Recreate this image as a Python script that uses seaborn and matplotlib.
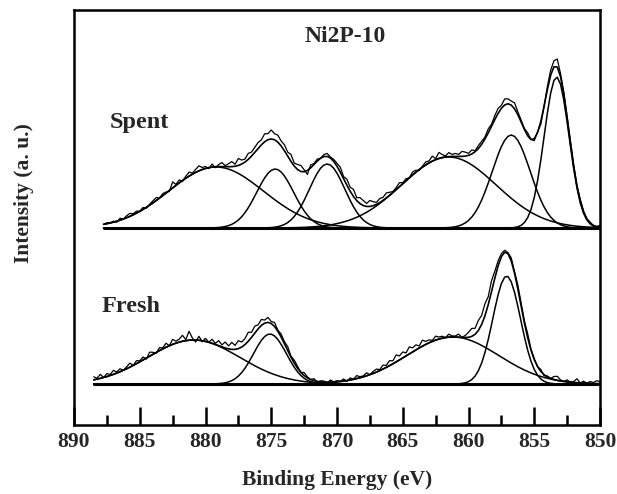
import numpy as np
import pandas as pd
import seaborn as sns
import matplotlib
matplotlib.use("Agg")
import matplotlib.pyplot as plt
from matplotlib.ticker import MultipleLocator

# ---------------- data ----------------
# fitted components: centre (eV), height, gaussian sigma (eV)
spent_center = [879.2, 874.7, 870.75, 861.5, 856.75, 853.3]
spent_height = [61, 59, 64, 71, 93, 151]
spent_sigma = [3.6, 1.4, 1.35, 3.6, 1.45, 0.95]

fresh_center = [880.9, 875.1, 861.2, 857.1]
fresh_height = [44, 50, 47, 108]
fresh_sigma = [3.5, 1.25, 3.5, 1.05]

# measured spectrum minus fitted envelope, sampled every 0.25 eV (high -> low BE)
spent_range = (887.75, 850.0)
spent_dev = [0, 1, 0,
             1, -1, 2, 0, 2, 3, 1, 2, 0, 2, -1, 1, 2, 3, 0, 2,
             1, -1, 6, 1, 3, -1, 2, 4, 1, 3, 5, 2, 2, -1, 3, -1,
             2, 4, 1, 3, 5, 2, 7, 4, 3, 6, 4, 5, 6, 5, 8, 6,
             9, 6, 7, 5, 6, 4, 7, 3, 5, 6, 2, -4, 3, 1, 2, 0,
             2, 3, 1, 2, 3, 5, 2, 6, 4, 7, 3, 6, 5, 3, 6, 4,
             2, 4, 3, 5, 3, 1, 2, 4, 1, 2, 0, 3, 2, -1, 1, 3,
             2, 5, 1, 6, 3, 1, 4, 2, 3, 2, 5, 4, 2, 4, 1, 3,
             3, 2, 4, 2, 4, 5, 3, 6, 5, 4, 6, 3, 2, 1, 3, 0,
             -2, 1, -3, 0, 3, 5, 6, 8, 3, 2, 1, 2, 1, 0, 2, 1,
             0, 1, -1, 0, 2]

fresh_range = (888.5, 850.0)
fresh_dev = [3, 1,
             4, 0, 3, 1, 4, 1, 3, 0, 2, 4, 0, 3, 1, 3, -1, 4,
             2, -1, 3, 1, 4, 0, 5, 2, 3, 6, 1, 9, 2, -2, 4, -1,
             3, 0, 4, 1, 5, 2, 6, 3, 7, 4, 8, 5, 6, 9, 5, 7,
             4, 6, 3, 5, 2, 4, 1, 3, 2, 4, 1, 3, 2, 0, 3, 1,
             0, 2, -1, 1, 1, -1, 2, 0, 1, 0, 2, -1, 2, 0, 3, 1,
             1, 3, 0, 2, 3, 1, 4, 2, 5, 3, 7, 4, 6, 3, 7, 4,
             5, 2, 6, 3, 3, 1, 4, 2, 2, 0, 3, 1, 1, 3, 0, 2,
             5, 8, 6, 10, 9, 12, 8, 11, 7, 5, 3, 2, 1, 3, 2, 4,
             3, 2, 4, 1, 1, 0, 2, -1, 1, 0, 3, 4, 1, 0, 2, 0,
             1, 4, 0, 2, 0, 2, 1, 3, 2]

spent_offset = 197
fresh_offset = 41

panel_labels = ["Spent", "Fresh"]
title = "Ni2P-10"
x_label = "Binding Energy (eV)"
y_label = "Intensity (a. u.)"

# ---------------- style ----------------
sns.set_theme(style="white")
plt.rcParams["font.family"] = ["Liberation Serif", "DejaVu Serif"]
plt.rcParams["font.weight"] = "bold"

fig = plt.figure(figsize=(6.17, 4.94), dpi=100)
ax = fig.add_axes([74 / 617, 1 - 425 / 494, 526 / 617, 415 / 494])


def gauss(x, c, h, s):
    return h * np.exp(-(x - c) ** 2 / (2 * s ** 2))


def draw_panel(rng, dev, centers, heights, sigmas, offset):
    x = np.linspace(rng[0], rng[1], len(dev))
    comps = [gauss(x, c, h, s) for c, h, s in zip(centers, heights, sigmas)]
    env = np.sum(comps, axis=0)
    raw = env + np.asarray(dev, dtype=float)
    # baseline
    sns.lineplot(x=[rng[0], rng[1]], y=[offset, offset], ax=ax, color="black",
                 lw=2.2, sort=False)
    for comp in comps:
        sns.lineplot(x=x, y=comp + offset, ax=ax, color="black", lw=1.1, sort=False)
    sns.lineplot(x=x, y=env + offset, ax=ax, color="black", lw=1.2, sort=False)
    sns.lineplot(x=x, y=raw + offset, ax=ax, color="black", lw=0.9, sort=False)


draw_panel(spent_range, spent_dev, spent_center, spent_height, spent_sigma, spent_offset)
draw_panel(fresh_range, fresh_dev, fresh_center, fresh_height, fresh_sigma, fresh_offset)

ax.set_xlim(890, 850)
ax.set_ylim(0, 415)
ax.xaxis.set_major_locator(MultipleLocator(5))
ax.xaxis.set_minor_locator(MultipleLocator(2.5))
ax.set_yticks([])
ax.tick_params(axis="x", which="major", direction="in", length=13, width=1.8,
               labelsize=15.5, pad=5, bottom=True, top=False, color="black")
ax.tick_params(axis="x", which="minor", direction="in", length=7, width=1.8,
               bottom=True, top=False, color="black")
for lab in ax.get_xticklabels():
    lab.set_fontweight("bold")
for sp in ax.spines.values():
    sp.set_linewidth(1.8)
    sp.set_color("black")

ax.set_xlabel(x_label, fontsize=15.5, fontweight="bold", labelpad=13)
ax.set_ylabel(y_label, fontsize=15.5, fontweight="bold")
ax.yaxis.set_label_coords(-0.076, 0.56)

ax.text(869.4, 383, title, fontsize=17, fontweight="bold", ha="center", va="baseline")
ax.text(887.3, 297, panel_labels[0], fontsize=17.5, fontweight="bold", ha="left", va="baseline")
ax.text(887.9, 113, panel_labels[1], fontsize=17.5, fontweight="bold", ha="left", va="baseline")

fig.savefig("out.png", dpi=100)
